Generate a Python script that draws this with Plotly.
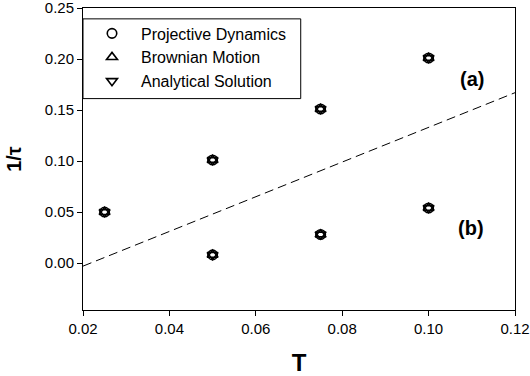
import plotly.graph_objects as go

# Data
T_vals = [0.025, 0.05, 0.075, 0.10, 0.05, 0.075, 0.10]
inv_tau_pd = [0.050, 0.101, 0.151, 0.201, 0.008, 0.028, 0.054]
inv_tau_bm = [0.050, 0.101, 0.151, 0.201, 0.008, 0.028, 0.054]
inv_tau_an = [0.050, 0.101, 0.151, 0.201, 0.008, 0.028, 0.054]
line_T = [0.02, 0.12]
line_inv_tau = [-0.003, 0.167]
series_names = ["Projective Dynamics", "Brownian Motion", "Analytical Solution"]
x_ticks = [0.02, 0.04, 0.06, 0.08, 0.10, 0.12]
y_ticks = [0.00, 0.05, 0.10, 0.15, 0.20, 0.25]

fig = go.Figure()

fig.add_trace(go.Scatter(
    x=line_T, y=line_inv_tau, mode="lines",
    line=dict(color="black", width=1, dash="9px,5px"),
    showlegend=False, hoverinfo="skip"))

symbols = ["circle-open", "triangle-up-open", "triangle-down-open"]
for name, ys, sym in zip(series_names, [inv_tau_pd, inv_tau_bm, inv_tau_an], symbols):
    fig.add_trace(go.Scatter(
        x=T_vals, y=ys, mode="markers", name=name,
        marker=dict(symbol=sym, size=9.5, color="black",
                    line=dict(color="black", width=1.6))))

font_family = "Arial, Liberation Sans, sans-serif"

fig.update_layout(
    width=530, height=376,
    margin=dict(l=83, r=15, t=8, b=66, autoexpand=False),
    paper_bgcolor="white", plot_bgcolor="white",
    font=dict(family=font_family, color="black", size=15),
    showlegend=True,
    legend=dict(x=0.0, y=0.972, xanchor="left", yanchor="top",
                bgcolor="rgba(0,0,0,0)", borderwidth=0,
                font=dict(size=16, family=font_family), tracegroupgap=0,
                itemwidth=48),
    shapes=[dict(type="rect", xref="paper", yref="paper",
                 x0=0, x1=0.504, y0=0.70, y1=0.964,
                 line=dict(color="black", width=1))],
    annotations=[
        dict(text="<b>(a)</b>", xref="paper", yref="paper", x=0.934, y=0.808,
             showarrow=False, font=dict(size=20, family=font_family)),
        dict(text="<b>(b)</b>", xref="paper", yref="paper", x=0.934, y=0.228,
             showarrow=False, font=dict(size=20, family=font_family)),
    ],
)

fig.update_xaxes(
    range=[0.02, 0.12], tickvals=x_ticks, tickformat=".2f",
    showgrid=False, zeroline=False, automargin=False,
    ticklabeloverflow="allow",
    showline=True, linecolor="black", linewidth=1, mirror=True,
    ticks="outside", ticklen=5, tickcolor="black",
    tickfont=dict(size=15),
    title=dict(text="<b>T</b>", font=dict(size=24), standoff=18))

fig.update_yaxes(
    range=[-0.046, 0.25], tickvals=y_ticks, tickformat=".2f",
    showgrid=False, zeroline=False, automargin=False,
    ticklabeloverflow="allow",
    showline=True, linecolor="black", linewidth=1, mirror=True,
    ticks="outside", ticklen=5, tickcolor="black",
    tickfont=dict(size=15),
    title=dict(text="<b>1/τ</b>", font=dict(size=20), standoff=17))

fig.write_html("out.html", config={"displayModeBar": False},
               post_script="document.body.style.margin='0';")
